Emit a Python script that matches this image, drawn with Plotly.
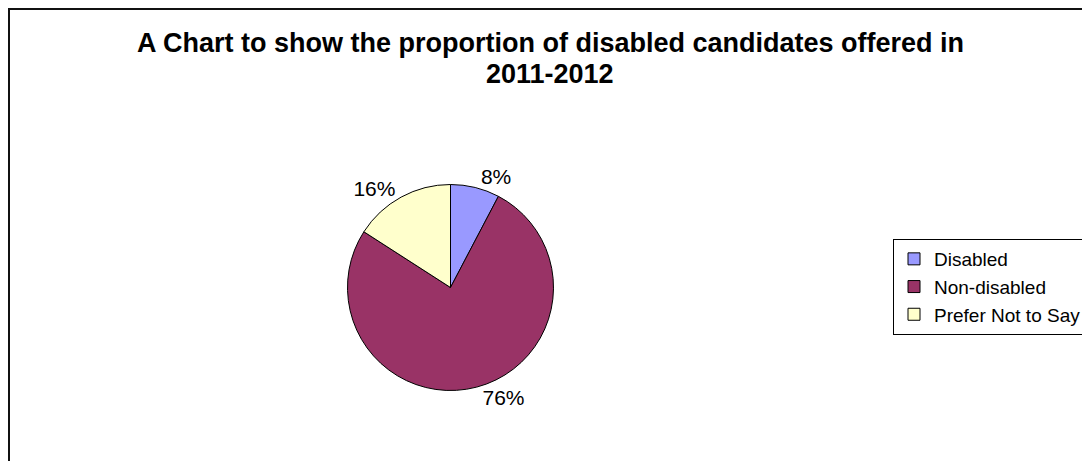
import plotly.graph_objects as go

categories = ["Disabled", "Non-disabled", "Prefer Not to Say"]
values = [7.7, 76.4, 15.9]
colors = ["#9999FF", "#993366", "#FFFFCC"]
title_lines = ["A Chart to show the proportion of disabled candidates offered in", "2011-2012"]

W, H = 1090, 461
FONT = "Liberation Sans, Arial, sans-serif"
OFF = 8  # page body margin offset

def px_x(x):
    return (x - OFF) / W

def px_y(y):
    return (H - (y - OFF)) / H

cx, cy, r = 450.5, 287.5, 103

fig = go.Figure(go.Pie(
    labels=categories,
    values=values,
    sort=False,
    direction="clockwise",
    rotation=0,
    marker=dict(colors=colors, line=dict(color="#000000", width=1)),
    texttemplate="%{percent:.0%}",
    textposition="outside",
    textfont=dict(family=FONT, size=21, color="#000000"),
    domain=dict(x=[px_x(cx - r), px_x(cx + r)], y=[px_y(cy + r), px_y(cy - r)]),
    hoverinfo="label+percent",
))

fig.add_annotation(text="<b>%s</b>" % title_lines[0], xref="paper", yref="paper",
                   x=px_x(550), y=px_y(43), xanchor="center", yanchor="middle",
                   showarrow=False, font=dict(family=FONT, size=27, color="#000000"))
fig.add_annotation(text="<b>%s</b>" % title_lines[1], xref="paper", yref="paper",
                   x=px_x(550), y=px_y(74), xanchor="center", yanchor="middle",
                   showarrow=False, font=dict(family=FONT, size=27, color="#000000"))

fig.add_shape(type="rect", xref="paper", yref="paper",
              x0=1.0 / W, y0=-0.02, x1=1.02, y1=1 - 1.0 / H,
              line=dict(color="#111111", width=2), fillcolor="rgba(0,0,0,0)", layer="above")

fig.update_layout(
    width=W, height=H,
    margin=dict(l=0, r=0, t=0, b=0),
    paper_bgcolor="#FFFFFF",
    plot_bgcolor="#FFFFFF",
    showlegend=True,
    legend=dict(
        x=px_x(893), y=px_y(287), xanchor="left", yanchor="middle",
        bordercolor="#000000", borderwidth=1, bgcolor="#FFFFFF",
        font=dict(family=FONT, size=19, color="#000000"),
        traceorder="normal",
    ),
)

fig.write_html("out.html")
